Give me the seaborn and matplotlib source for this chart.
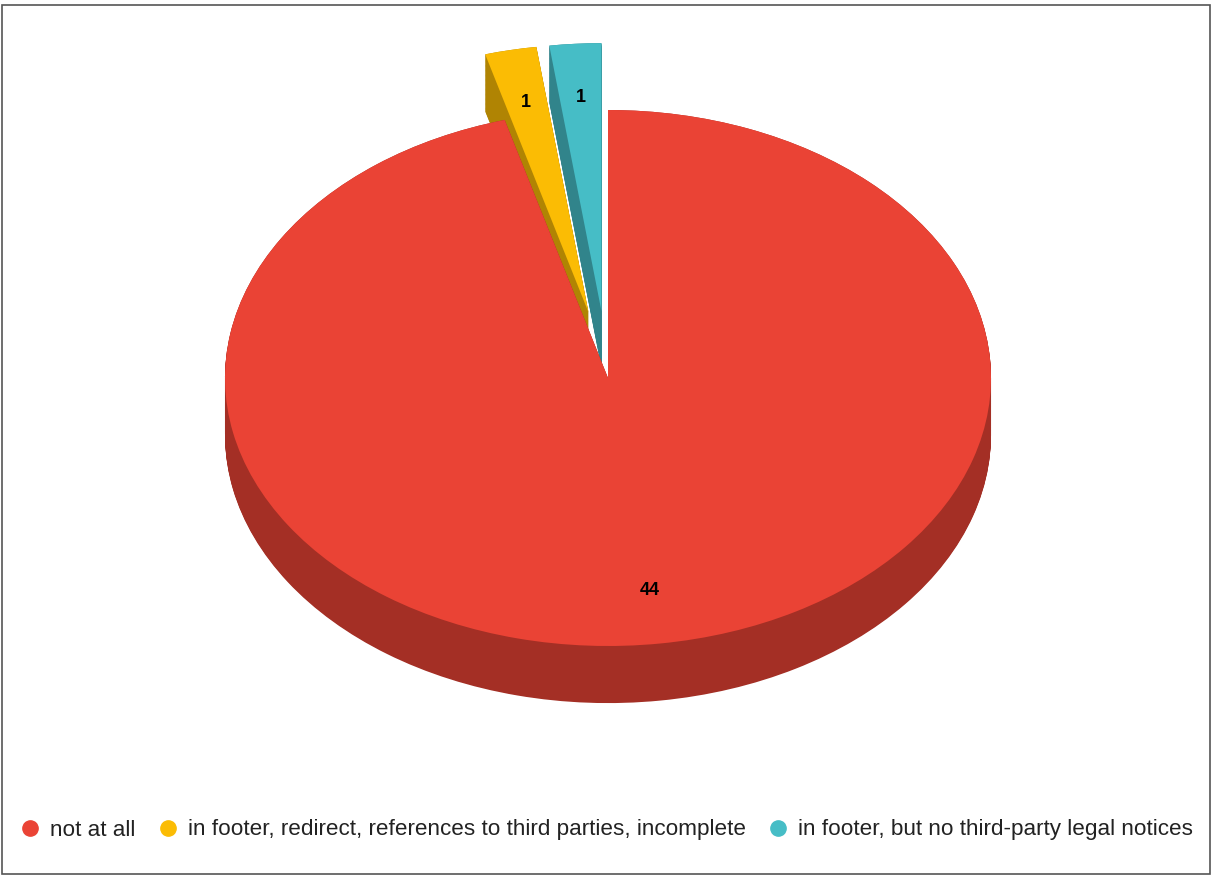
import numpy as np
import matplotlib
matplotlib.use("Agg")
import matplotlib.pyplot as plt
import matplotlib.colors as mcolors
from matplotlib.lines import Line2D
from matplotlib.patches import Rectangle
import seaborn as sns

# data
categories = ["not at all",
              "in footer, redirect, references to third parties, incomplete",
              "in footer, but no third-party legal notices"]
counts = [44, 1, 1]
explode = [0, 0.25, 0.25]
colors = sns.color_palette(["#EA4335", "#FBBC04", "#46BDC6"])

sns.set_theme(style="white")
plt.rcParams['font.family'] = ['Liberation Sans', 'DejaVu Sans']

# darker shade for the side walls of the 3d pie
dark = [tuple(np.array(mcolors.to_rgb(c)) * 0.7) for c in colors]

fig = plt.figure(figsize=(12.12, 8.76), dpi=100)
ax = fig.add_axes([0, 0, 1, 1])

total = sum(counts)
depth = 0.213
# stack darker copies downward to fake the extrusion
for d in np.linspace(-depth, 0, 70):
    ax.pie(counts, explode=explode, colors=dark, startangle=90,
           counterclock=False, center=(0, d),
           wedgeprops=dict(linewidth=0))

ax.pie(counts, explode=explode, colors=colors, startangle=90,
       counterclock=False, center=(0, 0), pctdistance=0.8,
       autopct=lambda p: f"{round(p * total / 100)}",
       wedgeprops=dict(linewidth=0),
       textprops=dict(fontsize=13, fontweight="bold", color="black"))

# flatten the pie into an ellipse (pixel mapping)
ax.set_aspect("auto")
ax.set_xlim(-608 / 383, (1212 - 608) / 383)
ax.set_ylim((378 - 876) / 268, 378 / 268)
ax.axis("off")

handles = [Line2D([], [], marker="o", linestyle="", markersize=11,
                  markerfacecolor=c, markeredgecolor=c) for c in colors]
fig.legend(handles, categories, loc="center", bbox_to_anchor=(0.5, 1 - 830 / 876),
           ncol=3, frameon=False, fontsize=16.2, handlelength=1.0,
           handletextpad=0.4, columnspacing=0.92, labelcolor="#222222")

fig.add_artist(Rectangle((2 / 1212, 2 / 876), 1208 / 1212, 869 / 876,
                         transform=fig.transFigure, fill=False,
                         edgecolor="#555555", linewidth=1.2))

fig.savefig("out.png", dpi=100)
